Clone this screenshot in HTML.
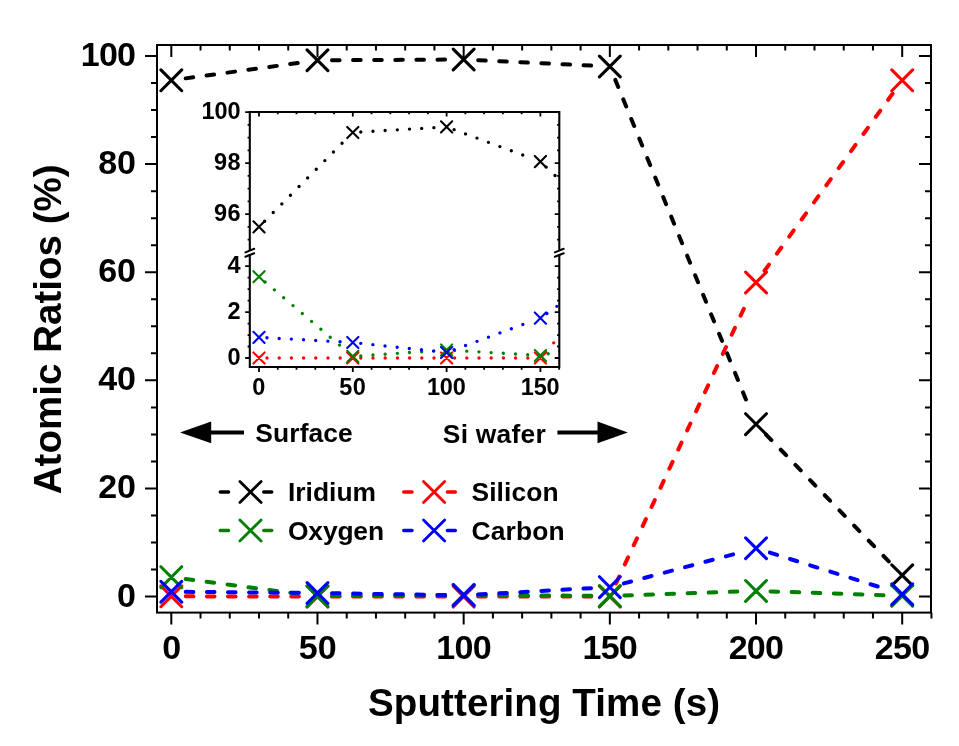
<!DOCTYPE html>
<html><head><meta charset="utf-8"><style>
html,body{margin:0;padding:0;background:#fff;}
svg{display:block;font-family:"Liberation Sans",sans-serif;will-change:transform;}
</style></head><body>
<svg width="959" height="746" viewBox="0 0 959 746">
<rect width="959" height="746" fill="#fff"/>
<rect x="157" y="45" width="774" height="567.6" fill="none" stroke="#000" stroke-width="2"/>
<path d="M171.3 612.6V624.6M171.3 45V57M200.54 612.6V618.6M200.54 45V50.5M229.77 612.6V618.6M229.77 45V50.5M259.01 612.6V618.6M259.01 45V50.5M288.24 612.6V618.6M288.24 45V50.5M317.48 612.6V624.6M317.48 45V57M346.72 612.6V618.6M346.72 45V50.5M375.95 612.6V618.6M375.95 45V50.5M405.19 612.6V618.6M405.19 45V50.5M434.42 612.6V618.6M434.42 45V50.5M463.66 612.6V624.6M463.66 45V57M492.9 612.6V618.6M492.9 45V50.5M522.13 612.6V618.6M522.13 45V50.5M551.37 612.6V618.6M551.37 45V50.5M580.6 612.6V618.6M580.6 45V50.5M609.84 612.6V624.6M609.84 45V57M639.08 612.6V618.6M639.08 45V50.5M668.31 612.6V618.6M668.31 45V50.5M697.55 612.6V618.6M697.55 45V50.5M726.78 612.6V618.6M726.78 45V50.5M756.02 612.6V624.6M756.02 45V57M785.26 612.6V618.6M785.26 45V50.5M814.49 612.6V618.6M814.49 45V50.5M843.73 612.6V618.6M843.73 45V50.5M872.96 612.6V618.6M872.96 45V50.5M902.2 612.6V624.6M902.2 45V57M931.44 612.6V618.6M157 596.6H145M931 596.6H919M157 569.57H151M931 569.57H925M157 542.54H151M931 542.54H925M157 515.51H151M931 515.51H925M157 488.48H145M931 488.48H919M157 461.45H151M931 461.45H925M157 434.42H151M931 434.42H925M157 407.39H151M931 407.39H925M157 380.36H145M931 380.36H919M157 353.33H151M931 353.33H925M157 326.3H151M931 326.3H925M157 299.27H151M931 299.27H925M157 272.24H145M931 272.24H919M157 245.21H151M931 245.21H925M157 218.18H151M931 218.18H925M157 191.15H151M931 191.15H925M157 164.12H145M931 164.12H919M157 137.09H151M931 137.09H925M157 110.06H151M931 110.06H925M157 83.03H151M931 83.03H925M157 56H145M931 56H919" stroke="#000" stroke-width="2" fill="none"/>
<g font-size="34" font-weight="bold"><text x="136" y="606.6" text-anchor="end">0</text><text x="136" y="498.48" text-anchor="end">20</text><text x="136" y="390.36" text-anchor="end">40</text><text x="136" y="282.24" text-anchor="end">60</text><text x="136" y="174.12" text-anchor="end">80</text><text x="136" y="66" text-anchor="end" textLength="55.3" lengthAdjust="spacing">100</text><text x="171.6" y="659.2" text-anchor="middle">0</text><text x="317.78" y="659.2" text-anchor="middle">50</text><text x="463.96" y="659.2" text-anchor="middle" textLength="55.3" lengthAdjust="spacing">100</text><text x="610.14" y="659.2" text-anchor="middle" textLength="55.3" lengthAdjust="spacing">150</text><text x="756.32" y="659.2" text-anchor="middle" textLength="55.3" lengthAdjust="spacing">200</text><text x="902.5" y="659.2" text-anchor="middle" textLength="55.3" lengthAdjust="spacing">250</text></g>
<text x="544" y="716" font-size="38.5" font-weight="bold" text-anchor="middle" textLength="352" lengthAdjust="spacing">Sputtering Time (s)</text>
<text transform="translate(60.5 329.3) rotate(-90)" font-size="38.5" font-weight="bold" text-anchor="middle" textLength="330" lengthAdjust="spacing">Atomic Ratios (%)</text>
<g stroke="#000" stroke-width="4" stroke-linecap="round" stroke-dasharray="7.6 13.5" fill="none"><path d="M185.67 78.36L297.72 63.03"/><path d="M331.98 60.24L445.08 59.62"/><path d="M478.14 60.2L591.12 65.59"/><path d="M615.33 79.91L745.93 399.45"/><path d="M766.1 434.57L888.73 561.37"/></g>
<path d="M160.9 69.93L181.7 90.73M160.9 90.73L181.7 69.93M307.08 49.92L327.88 70.72M307.08 70.72L327.88 49.92M453.26 49.11L474.06 69.91M453.26 69.91L474.06 49.11M599.44 56.09L620.24 76.89M599.44 76.89L620.24 56.09M745.62 413.75L766.42 434.55M745.62 434.55L766.42 413.75M891.8 564.9L912.6 585.7M891.8 585.7L912.6 564.9" stroke="#000" stroke-width="3.1" stroke-linecap="round" fill="none"/>
<g stroke="#ff0000" stroke-width="4" stroke-linecap="round" stroke-dasharray="7.6 13.5" fill="none"><path d="M185.8 596.36L298.9 596.57"/><path d="M331.98 596.6L445.08 596.6"/><path d="M478.16 596.6L591.26 596.6"/><path d="M615.96 583.45L743.81 308.75"/><path d="M764.52 270.76L892.59 93.61"/></g>
<path d="M160.9 585.93L181.7 606.73M160.9 606.73L181.7 585.93M307.08 586.2L327.88 607M307.08 607L327.88 586.2M453.26 586.2L474.06 607M453.26 607L474.06 586.2M599.44 586.2L620.24 607M599.44 607L620.24 586.2M745.62 272.11L766.42 292.91M745.62 292.91L766.42 272.11M891.8 69.93L912.6 90.73M891.8 90.73L912.6 69.93" stroke="#ff0000" stroke-width="3.1" stroke-linecap="round" fill="none"/>
<g stroke="#008000" stroke-width="4" stroke-linecap="round" stroke-dasharray="7.6 13.5" fill="none"><path d="M185.68 579.02L297.83 593.66"/><path d="M331.98 596.07L445.07 594.9"/><path d="M478.16 594.84L591.25 595.84"/><path d="M624.33 595.5L737.36 591.57"/><path d="M770.51 591.41L883.55 595.17"/></g>
<path d="M160.9 566.74L181.7 587.54M160.9 587.54L181.7 566.74M307.08 585.82L327.88 606.62M307.08 606.62L327.88 585.82M453.26 584.31L474.06 605.11M453.26 605.11L474.06 584.31M599.44 585.61L620.24 606.41M599.44 606.41L620.24 585.61M745.62 580.52L766.42 601.32M745.62 601.32L766.42 580.52M891.8 585.39L912.6 606.19M891.8 606.19L912.6 585.39" stroke="#008000" stroke-width="3.1" stroke-linecap="round" fill="none"/>
<g stroke="#0000ff" stroke-width="4" stroke-linecap="round" stroke-dasharray="7.6 13.5" fill="none"><path d="M185.8 591.86L298.9 592.82"/><path d="M331.98 593.21L445.06 595.01"/><path d="M478.14 594.49L591.06 588.19"/><path d="M623.85 583.42L733.17 554.39"/><path d="M769.86 552.66L877.77 586.51"/></g>
<path d="M160.9 581.33L181.7 602.13M160.9 602.13L181.7 581.33M307.08 582.58L327.88 603.38M307.08 603.38L327.88 582.58M453.26 584.9L474.06 605.7M453.26 605.7L474.06 584.9M599.44 576.74L620.24 597.54M599.44 597.54L620.24 576.74M745.62 537.92L766.42 558.72M745.62 558.72L766.42 537.92M891.8 583.77L912.6 604.57M891.8 604.57L912.6 583.77" stroke="#0000ff" stroke-width="3.1" stroke-linecap="round" fill="none"/>
<path d="M220.2 492H228.6M263.7 492H271.8" stroke="#000" stroke-width="3.3" stroke-linecap="round"/><path d="M239.9 481.4L261.1 502.6M239.9 502.6L261.1 481.4" stroke="#000" stroke-width="2.8" stroke-linecap="round" fill="none"/><text x="288" y="501" font-size="26.4" font-weight="bold" textLength="88" lengthAdjust="spacing">Iridium</text>
<path d="M220.2 530.5H228.6M263.7 530.5H271.8" stroke="#008000" stroke-width="3.3" stroke-linecap="round"/><path d="M239.9 519.9L261.1 541.1M239.9 541.1L261.1 519.9" stroke="#008000" stroke-width="2.8" stroke-linecap="round" fill="none"/><text x="288" y="539.5" font-size="26.4" font-weight="bold" textLength="96" lengthAdjust="spacing">Oxygen</text>
<path d="M403.7 492H412.1M447.3 492H455.4" stroke="#ff0000" stroke-width="3.3" stroke-linecap="round"/><path d="M423.5 481.4L444.7 502.6M423.5 502.6L444.7 481.4" stroke="#ff0000" stroke-width="2.8" stroke-linecap="round" fill="none"/><text x="471.5" y="501" font-size="26.4" font-weight="bold" textLength="87" lengthAdjust="spacing">Silicon</text>
<path d="M403.7 530.5H412.1M447.3 530.5H455.4" stroke="#0000ff" stroke-width="3.3" stroke-linecap="round"/><path d="M423.5 519.9L444.7 541.1M423.5 541.1L444.7 519.9" stroke="#0000ff" stroke-width="2.8" stroke-linecap="round" fill="none"/><text x="471.5" y="539.5" font-size="26.4" font-weight="bold" textLength="93" lengthAdjust="spacing">Carbon</text>
<path d="M180 432.4L211.2 421.6V443.2Z" fill="#000"/>
<path d="M211 432.5H244" stroke="#000" stroke-width="4"/>
<path d="M627.8 432.4L597.5 421.4V443.3Z" fill="#000"/>
<path d="M557.4 432.5H598" stroke="#000" stroke-width="4"/>
<text x="255.3" y="442.4" font-size="26.4" font-weight="bold" textLength="97.5" lengthAdjust="spacing">Surface</text>
<text x="442.8" y="442.6" font-size="26.4" font-weight="bold" textLength="103" lengthAdjust="spacing">Si wafer</text>
<rect x="249.8" y="112" width="309.5" height="255" fill="#fff"/>
<defs><clipPath id="ic"><rect x="249.8" y="112" width="309.5" height="255"/></clipPath></defs>
<g clip-path="url(#ic)"><g stroke="#000" stroke-width="3.4" stroke-linecap="round" stroke-dasharray="0 12.2" fill="none"><path d="M264.64 221.18L347.16 138.17"/><path d="M360.79 132.02L438.61 127.37"/><path d="M454.1 129.66L532.9 158.8"/><path d="M546.19 167.09L628.41 245.55"/></g><path d="M253.4 221.25L264.6 232.45M253.4 232.45L264.6 221.25M347.2 126.9L358.4 138.1M347.2 138.1L358.4 126.9M441 121.29L452.2 132.49M441 132.49L452.2 121.29M534.8 155.97L546 167.17M534.8 167.17L546 155.97" stroke="#000" stroke-width="2.1" stroke-linecap="round" fill="none"/><g stroke="#ff0000" stroke-width="3.4" stroke-linecap="round" stroke-dasharray="0 12.2" fill="none"><path d="M267 358L344.8 358"/><path d="M360.8 358L438.6 358"/><path d="M454.6 358L532.4 358"/><path d="M545.68 351.99L628.92 257.29"/></g><path d="M253.4 352.4L264.6 363.6M253.4 363.6L264.6 352.4M347.2 352.4L358.4 363.6M347.2 363.6L358.4 352.4M441 352.4L452.2 363.6M441 363.6L452.2 352.4M534.8 352.4L546 363.6M534.8 363.6L546 352.4" stroke="#ff0000" stroke-width="2.1" stroke-linecap="round" fill="none"/><g stroke="#008000" stroke-width="3.4" stroke-linecap="round" stroke-dasharray="0 12.2" fill="none"><path d="M265.1 281.93L346.7 351.22"/><path d="M360.78 355.85L438.62 350.51"/><path d="M454.59 350.44L532.41 355.01"/><path d="M548.2 353.68L626.4 335.7"/></g><path d="M253.4 271.16L264.6 282.36M253.4 282.36L264.6 271.16M347.2 350.79L358.4 361.99M347.2 361.99L358.4 350.79M441 344.37L452.2 355.57M441 355.57L452.2 344.37M534.8 349.88L546 361.08M534.8 361.08L546 349.88" stroke="#008000" stroke-width="2.1" stroke-linecap="round" fill="none"/><g stroke="#0000ff" stroke-width="3.4" stroke-linecap="round" stroke-dasharray="0 12.2" fill="none"><path d="M266.99 337.78L344.81 342.07"/><path d="M360.76 343.36L438.64 351.65"/><path d="M454.11 349.74L532.89 320.82"/><path d="M546.92 313.43L627.68 255.92"/></g><path d="M253.4 331.75L264.6 342.95M253.4 342.95L264.6 331.75M347.2 336.91L358.4 348.11M347.2 348.11L358.4 336.91M441 346.89L452.2 358.09M441 358.09L452.2 346.89M534.8 312.47L546 323.67M534.8 323.67L546 312.47" stroke="#0000ff" stroke-width="2.1" stroke-linecap="round" fill="none"/></g>
<path d="M249.8 250.5V112H559.3V250.5M249.8 254.5V367H559.3V254.5" stroke="#000" stroke-width="2.1" fill="none"/>
<path d="M245.4 252.4L254.2 248.8M245.4 256.8L254.2 253.2M554.9 252.4L563.7 248.8M554.9 256.8L563.7 253.2" stroke="#000" stroke-width="2" stroke-linecap="round" fill="none"/>
<path d="M259 367V372M259 112V116.5M277.76 367V369.8M277.76 112V114.3M296.52 367V369.8M296.52 112V114.3M315.28 367V369.8M315.28 112V114.3M334.04 367V369.8M334.04 112V114.3M352.8 367V372M352.8 112V116.5M371.56 367V369.8M371.56 112V114.3M390.32 367V369.8M390.32 112V114.3M409.08 367V369.8M409.08 112V114.3M427.84 367V369.8M427.84 112V114.3M446.6 367V372M446.6 112V116.5M465.36 367V369.8M465.36 112V114.3M484.12 367V369.8M484.12 112V114.3M502.88 367V369.8M502.88 112V114.3M521.64 367V369.8M521.64 112V114.3M540.4 367V372M540.4 112V116.5M559.16 367V369.8M559.16 112V114.3M249.8 112.1H245.2M559.3 112.1H554.7M249.8 124.85H247.6M559.3 124.85H557.1M249.8 137.6H247.6M559.3 137.6H557.1M249.8 150.35H247.6M559.3 150.35H557.1M249.8 163.1H245.2M559.3 163.1H554.7M249.8 175.85H247.6M559.3 175.85H557.1M249.8 188.6H247.6M559.3 188.6H557.1M249.8 201.35H247.6M559.3 201.35H557.1M249.8 214.1H245.2M559.3 214.1H554.7M249.8 226.85H247.6M559.3 226.85H557.1M249.8 239.6H247.6M559.3 239.6H557.1M249.8 358H245.2M559.3 358H554.7M249.8 346.52H247.6M559.3 346.52H557.1M249.8 335.05H247.6M559.3 335.05H557.1M249.8 323.57H247.6M559.3 323.57H557.1M249.8 312.1H245.2M559.3 312.1H554.7M249.8 300.62H247.6M559.3 300.62H557.1M249.8 289.15H247.6M559.3 289.15H557.1M249.8 277.68H247.6M559.3 277.68H557.1M249.8 266.2H245.2M559.3 266.2H554.7" stroke="#000" stroke-width="1.8" fill="none"/>
<g font-size="23.5" font-weight="bold" letter-spacing="0.4"><text x="241" y="118.9" text-anchor="end" textLength="39.4" lengthAdjust="spacing">100</text><text x="241" y="169.9" text-anchor="end">98</text><text x="241" y="220.9" text-anchor="end">96</text><text x="241" y="273" text-anchor="end">4</text><text x="241" y="318.9" text-anchor="end">2</text><text x="241" y="364.8" text-anchor="end">0</text><text x="259" y="394.6" text-anchor="middle">0</text><text x="352.8" y="394.6" text-anchor="middle">50</text><text x="446.6" y="394.6" text-anchor="middle" textLength="39.4" lengthAdjust="spacing">100</text><text x="540.4" y="394.6" text-anchor="middle" textLength="39.4" lengthAdjust="spacing">150</text></g>
</svg>
</body></html>
